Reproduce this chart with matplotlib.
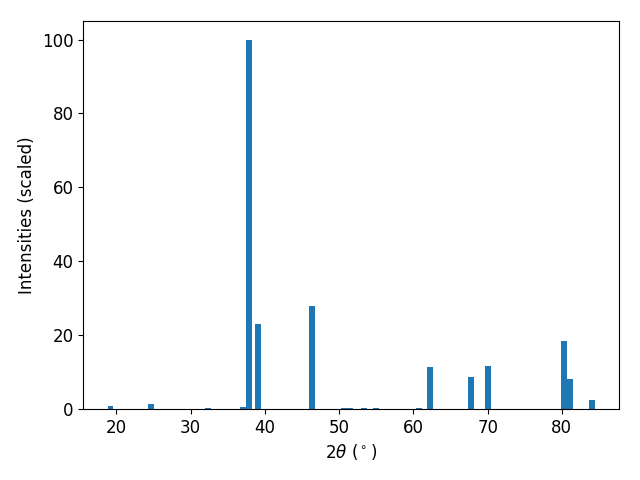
import matplotlib
matplotlib.use('Agg')
import matplotlib.pyplot as plt

# peak positions (2theta, degrees) and scaled intensities
two_theta = [19.2, 24.7, 32.3, 37.1, 37.9, 39.1, 46.4, 50.6, 51.5, 53.3, 55.0,
             60.8, 62.2, 67.7, 70.1, 80.3, 81.05, 84.0]
intensity = [0.9, 1.35, 0.3, 0.5, 100, 23, 28, 0.3, 0.3, 0.3, 0.3,
             0.3, 11.3, 8.7, 11.7, 18.3, 8.0, 2.5]

plt.rcParams['font.size'] = 12
fig, ax = plt.subplots(figsize=(6.4, 4.8), dpi=100)
ax.bar(two_theta, intensity)
ax.set_xlabel(r'$2\theta$ ($^\circ$)')
ax.set_ylabel('Intensities (scaled)')
fig.subplots_adjust(left=0.13, right=0.967, top=0.956, bottom=0.148)
fig.savefig('out.png')
